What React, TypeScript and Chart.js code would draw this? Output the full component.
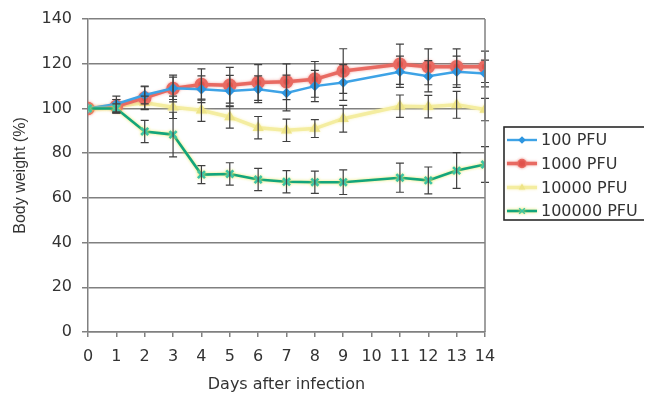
import { useEffect, useRef } from "react";
import { Chart, registerables } from "chart.js";
import { drawPoint } from "chart.js/helpers";

Chart.register(...registerables);

const days = [0, 1, 2, 3, 4, 5, 6, 7, 8, 9, 11, 12, 13, 14];
const seriesLabels = ["100 PFU", "1000 PFU", "10000 PFU", "100000 PFU"];
const pfu100 = [100, 102, 106, 109, 108.6, 107.8, 108.6, 106.9, 110, 111.6, 116.4, 114.4, 116.4, 115.6];
const pfu1000 = [100, 101, 104.7, 108.9, 110.7, 110.4, 111.6, 111.9, 113, 116.7, 119.8, 118.6, 118.6, 118.6];
const pfu10000 = [100, 101, 102.5, 100.5, 99.2, 96.2, 91.4, 90.2, 91, 95.4, 101, 100.8, 101.6, 99.5];
const pfu100000 = [100, 100, 89.7, 88.3, 70.4, 70.7, 68.2, 67.2, 67, 67, 69, 67.8, 72.2, 74.9];
const err100 = [0, 3.5, 4, 5, 6, 7, 6, 8, 7, 8, 7, 7, 7, 6];
const err1000 = [0, 3, 5, 6, 7, 8, 8, 8, 8, 10, 9, 8, 8, 7];
const err10000 = [0, 3, 3, 5, 5, 5, 5, 5, 4, 6, 5, 5, 6, 5];
const err100000 = [0, 2, 5, 10, 4, 5, 5, 5, 5, 5.5, 6.5, 6, 8, 8];
const yTicks = [0, 20, 40, 60, 80, 100, 120, 140];
const xTicks = [0, 1, 2, 3, 4, 5, 6, 7, 8, 9, 10, 11, 12, 13, 14];

const FONT = "'DejaVu Sans', sans-serif";
const VFONT = "'Liberation Sans', Arial, sans-serif";
const TXT = "#333333";

const toPts = (vals: number[]) => vals.map((v, i) => ({ x: days[i], y: v }));

const errorBarPlugin = {
  id: "errorBars",
  afterDatasetsDraw(chart: any) {
    const ctx = chart.ctx;
    const xs = chart.scales.x;
    const ys = chart.scales.y;
    ctx.save();
    ctx.strokeStyle = "#404040";
    ctx.lineWidth = 1.2;
    chart.data.datasets.forEach((ds: any) => {
      const errs: number[] = ds.errors || [];
      ds.data.forEach((p: any, i: number) => {
        const e = errs[i];
        if (!e) return;
        const px = xs.getPixelForValue(p.x);
        const top = ys.getPixelForValue(p.y + e);
        const bot = ys.getPixelForValue(p.y - e);
        ctx.beginPath();
        ctx.moveTo(px, top);
        ctx.lineTo(px, bot);
        ctx.moveTo(px - 4, top);
        ctx.lineTo(px + 4, top);
        ctx.moveTo(px - 4, bot);
        ctx.lineTo(px + 4, bot);
        ctx.stroke();
      });
    });
    ctx.restore();
  },
};

const glowPlugin = {
  id: "glow",
  beforeDatasetDraw(chart: any, args: any) {
    const ds = chart.data.datasets[args.index];
    if (ds.glow) {
      chart.ctx.save();
      chart.ctx.shadowColor = ds.glow;
      chart.ctx.shadowBlur = 3;
    }
  },
  afterDatasetDraw(chart: any, args: any) {
    const ds = chart.data.datasets[args.index];
    if (ds.glow) chart.ctx.restore();
  },
};

const frameLegendPlugin = {
  id: "frameLegend",
  afterDraw(chart: any) {
    const ctx = chart.ctx;
    const a = chart.chartArea;
    ctx.save();
    ctx.strokeStyle = "#808080";
    ctx.lineWidth = 1.5;
    ctx.beginPath();
    ctx.moveTo(a.right, a.top);
    ctx.lineTo(a.right, a.bottom);
    ctx.stroke();
    const bx = 496, by = 119, bw = 152, bh = 93;
    ctx.strokeStyle = "#2a2a2a";
    ctx.lineWidth = 1.6;
    ctx.strokeRect(bx, by, bw, bh);
    const rows = [132, 155.5, 179.5, 203];
    ctx.font = `16px ${FONT}`;
    ctx.textBaseline = "middle";
    ctx.textAlign = "left";
    chart.data.datasets.forEach((ds: any) => {
      const y = rows[ds.legendIndex];
      ctx.save();
      if (ds.glow) {
        ctx.shadowColor = ds.glow;
        ctx.shadowBlur = 3;
      }
      ctx.strokeStyle = ds.borderColor;
      ctx.lineWidth = ds.borderWidth;
      ctx.beginPath();
      ctx.moveTo(499, y);
      ctx.lineTo(529, y);
      ctx.stroke();
      ctx.fillStyle = ds.pointBackgroundColor;
      ctx.strokeStyle = ds.pointBorderColor;
      ctx.lineWidth = 1.5;
      drawPoint(ctx, { pointStyle: ds.pointStyle, radius: ds.pointRadius * 0.8, rotation: 0, borderWidth: 1.5 }, 514, y);
      ctx.restore();
      ctx.fillStyle = TXT;
      ctx.fillText(ds.label, 533, y + 1);
    });
    ctx.restore();
  },
};

export default function App() {
  const ref = useRef<HTMLCanvasElement | null>(null);
  useEffect(() => {
    if (!ref.current) return;
    const chart = new Chart(ref.current, {
      type: "scatter",
      data: {
        datasets: [
          {
            label: seriesLabels[0],
            data: toPts(pfu100),
            errors: err100,
            legendIndex: 0,
            order: 1,
            showLine: true,
            borderColor: "#3ea3e6",
            borderWidth: 2.4,
            pointStyle: "rectRot",
            pointRadius: 3.5,
            pointBackgroundColor: "#2e96e0",
            pointBorderColor: "#2e96e0",
          },
          {
            label: seriesLabels[1],
            data: toPts(pfu1000),
            errors: err1000,
            legendIndex: 1,
            order: 2,
            showLine: true,
            glow: "rgba(235,110,100,0.6)",
            borderColor: "#e86a62",
            borderWidth: 3.5,
            pointStyle: "circle",
            pointRadius: 5,
            pointBackgroundColor: "#e0504a",
            pointBorderColor: "#e86a62",
          },
          {
            label: seriesLabels[2],
            data: toPts(pfu10000),
            errors: err10000,
            legendIndex: 2,
            order: 3,
            showLine: true,
            glow: "rgba(245,235,140,0.6)",
            borderColor: "#f4eda0",
            borderWidth: 3.5,
            pointStyle: "triangle",
            pointRadius: 3,
            pointBackgroundColor: "#eee488",
            pointBorderColor: "#eee488",
          },
          {
            label: seriesLabels[3],
            data: toPts(pfu100000),
            errors: err100000,
            legendIndex: 3,
            order: 0,
            showLine: true,
            glow: "rgba(235,230,90,0.95)",
            borderColor: "#12a57c",
            borderWidth: 2.6,
            pointStyle: "crossRot",
            pointRadius: 5,
            pointBackgroundColor: "#3cc4a6",
            pointBorderColor: "#3cc4a6",
          },
        ] as any,
      },
      options: {
        animation: false,
        responsive: false,
        layout: { padding: { left: 0, right: 167, top: 11, bottom: 0 } },
        plugins: { legend: { display: false }, tooltip: { enabled: false } },
        scales: {
          x: {
            type: "linear",
            min: 0,
            max: 14,
            afterBuildTicks: (s: any) => {
              s.ticks = xTicks.map((v) => ({ value: v }));
            },
            afterFit: (s: any) => {
              s.height = 64;
              s.paddingLeft = 0;
              s.paddingRight = 0;
            },
            grid: { drawOnChartArea: false, drawTicks: true, tickLength: 5, color: "#808080", lineWidth: 1.5 },
            border: { color: "#808080", width: 1.5 },
            ticks: { color: TXT, font: { family: FONT, size: 16 }, padding: 10, maxRotation: 0, autoSkip: false },
            title: { display: true, text: "Days after infection", color: TXT, font: { family: FONT, size: 16 }, padding: { top: 0, bottom: 2 } },
          },
          y: {
            min: 0,
            max: 140,
            afterBuildTicks: (s: any) => {
              s.ticks = yTicks.map((v) => ({ value: v }));
            },
            afterFit: (s: any) => {
              s.width = 80;
              s.paddingTop = 0;
              s.paddingBottom = 0;
            },
            grid: { color: "#808080", lineWidth: 1.5, tickLength: 6 },
            border: { color: "#808080", width: 1.5 },
            ticks: { color: TXT, font: { family: FONT, size: 16 }, padding: 10 },
            title: { display: true, text: "Body weight (%)", color: TXT, font: { family: VFONT, size: 16 }, padding: { top: 3, bottom: 0 } },
          },
        },
      } as any,
      plugins: [glowPlugin, errorBarPlugin, frameLegendPlugin],
    });
    return () => chart.destroy();
  }, []);
  return (
    <div style={{ width: 644, height: 388 }}>
      <canvas ref={ref} width={644} height={388} style={{ display: "block" }} />
    </div>
  );
}
